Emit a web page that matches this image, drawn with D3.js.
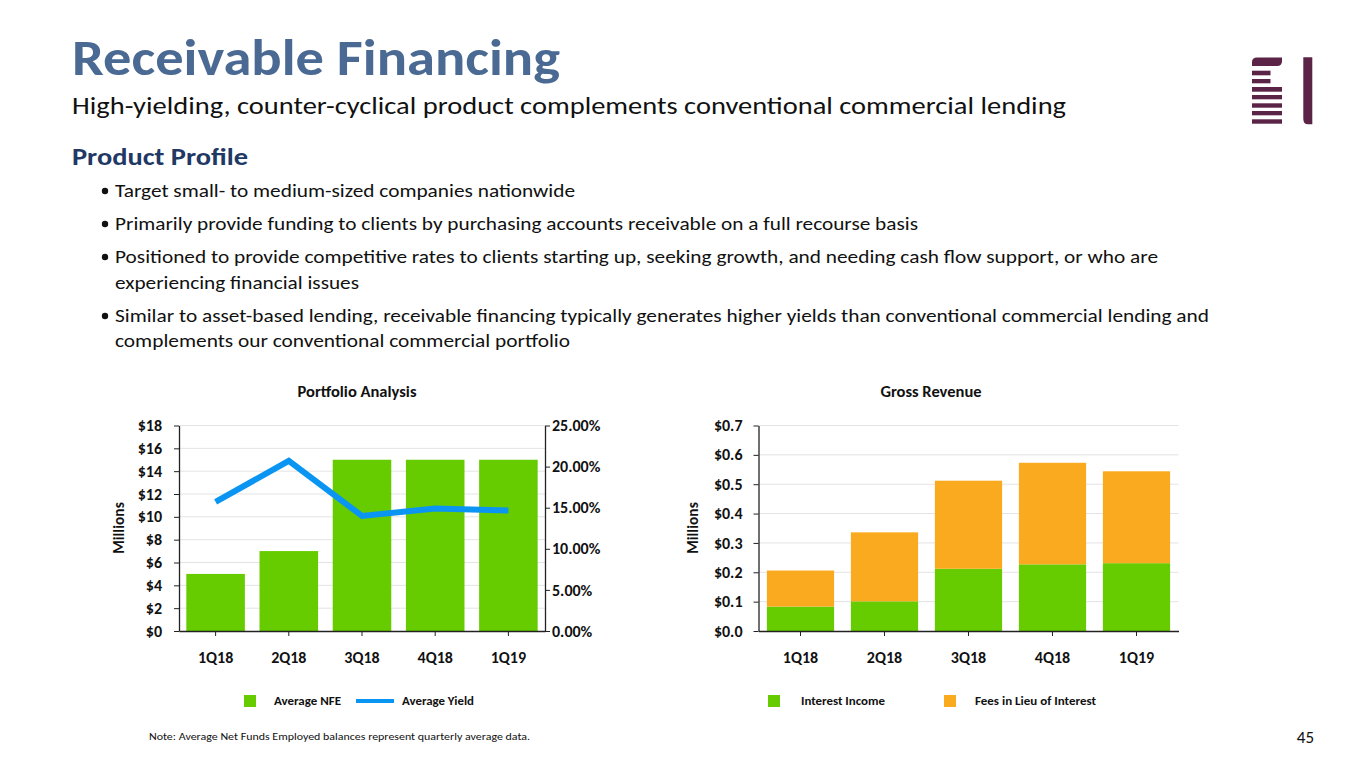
<!DOCTYPE html>
<html><head><meta charset="utf-8">
<script src="https://cdn.jsdelivr.net/npm/d3@7"></script>
<style>
html,body{margin:0;padding:0;background:#fff;}
svg{display:block;font-family:Carlito,Lato,"Open Sans",sans-serif;}
</style></head>
<body>
<svg id="c" width="1365" height="768"></svg>
<script>
const categories = ["1Q18","2Q18","3Q18","4Q18","1Q19"];
const avgNFE = [5, 7, 15, 15, 15];               // $ millions
const avgYield = [0.157, 0.207, 0.140, 0.149, 0.1465];
const interestIncome = [0.083, 0.101, 0.212, 0.227, 0.231];
const feesInLieu = [0.123, 0.235, 0.300, 0.346, 0.313];
const leftTicks = [0,2,4,6,8,10,12,14,16,18];
const yieldTicks = [0,0.05,0.10,0.15,0.20,0.25];
const revTicks = [0,0.1,0.2,0.3,0.4,0.5,0.6,0.7];
const bullets = [
  ["Target small- to medium-sized companies nationwide"],
  ["Primarily provide funding to clients by purchasing accounts receivable on a full recourse basis"],
  ["Positioned to provide competitive rates to clients starting up, seeking growth, and needing cash flow support, or who are","experiencing financial issues"],
  ["Similar to asset-based lending, receivable financing typically generates higher yields than conventional commercial lending and","complements our conventional commercial portfolio"]
];

const GREEN="#66cc00", ORANGE="#f9aa1e", BLUE="#0b95f2", GRID="#e3e3e3", MAROON="#5b2447";
const svg = d3.select("#c");

// Header
svg.append("text").attr("x",72).attr("y",75).attr("font-size",50).attr("font-weight","bold")
  .attr("fill","#4b6a93").attr("textLength",488).attr("lengthAdjust","spacingAndGlyphs").text("Receivable Financing");
svg.append("text").attr("x",72).attr("y",114).attr("font-size",24).attr("fill","#111")
  .attr("textLength",994).attr("lengthAdjust","spacingAndGlyphs")
  .text("High-yielding, counter-cyclical product complements conventional commercial lending");
svg.append("text").attr("x",72).attr("y",165).attr("font-size",24).attr("font-weight","bold")
  .attr("fill","#1f3864").attr("textLength",176).attr("lengthAdjust","spacingAndGlyphs").text("Product Profile");

const lineWidths = [[460],[803],[1043,244],[1094,455]];
const lineY = [[197],[230],[263,289],[322,347]];
bullets.forEach((b,i)=>{
  svg.append("circle").attr("cx",105).attr("cy",lineY[i][0]-6).attr("r",3.2).attr("fill","#111");
  b.forEach((t,j)=>{
    svg.append("text").attr("x",115).attr("y",lineY[i][j]).attr("font-size",19).attr("fill","#111")
      .attr("textLength",lineWidths[i][j]).attr("lengthAdjust","spacingAndGlyphs").text(t);
  });
});

// Logo
const logo = svg.append("g").attr("fill",MAROON);
logo.append("path").attr("d","M1252,66 L1252,62 Q1252,57.5 1257,57.5 L1282,57.5 L1282,61 Q1282,66 1277,66 Z");
[[70.7,75.3,1270.5],[79,83.3,1270.5],[87,91.7,1282],[95,99.3,1282],[103.3,107.7,1282],[111,115.3,1282],[119.3,123.7,1282]]
  .forEach(r=>logo.append("rect").attr("x",1252).attr("y",r[0]).attr("width",r[2]-1252).attr("height",r[1]-r[0]));
logo.append("path").attr("d","M1303.3,57.3 L1312.3,57.3 L1312.3,124.3 L1308,124.3 Q1303.3,124.3 1303.3,119 Z");

function styleAxis(g){
  g.select(".domain").attr("stroke","#222").attr("stroke-width",1.3);
  g.selectAll(".tick line").attr("stroke","#222");
  g.selectAll("text").attr("font-family","Carlito,Lato,'Open Sans',sans-serif").attr("font-weight","bold").attr("font-size",16).attr("fill","#111");
}

// ---------- Left chart ----------
const L = {x0:179, x1:545, y0:631, y1:425.5};
const xL = d3.scaleBand().domain(categories).range([L.x0,L.x1]).paddingInner(0.2).paddingOuter(0.1);
const yL = d3.scaleLinear().domain([0,18]).range([L.y0,L.y1]);
const yY = d3.scaleLinear().domain([0,0.25]).range([L.y0,L.y1]);

const gl = svg.append("g");
gl.append("g").selectAll("line").data(leftTicks.slice(1)).join("line")
  .attr("x1",L.x0).attr("x2",L.x1).attr("y1",d=>yL(d)).attr("y2",d=>yL(d)).attr("stroke",GRID).attr("stroke-width",1);
gl.append("g").selectAll("rect").data(avgNFE).join("rect")
  .attr("x",(d,i)=>xL(categories[i])).attr("width",xL.bandwidth())
  .attr("y",d=>yL(d)).attr("height",d=>yL(0)-yL(d)).attr("fill",GREEN);
gl.append("path").datum(avgYield)
  .attr("d",d3.line().x((d,i)=>xL(categories[i])+xL.bandwidth()/2).y(d=>yY(d)))
  .attr("fill","none").attr("stroke",BLUE).attr("stroke-width",6).attr("stroke-linejoin","miter");

gl.append("g").attr("transform",`translate(${L.x0},0)`)
  .call(d3.axisLeft(yL).tickValues(leftTicks).tickSize(5).tickSizeOuter(0).tickPadding(12).tickFormat(d=>"$"+d)).call(styleAxis);
gl.append("g").attr("transform",`translate(${L.x1},0)`)
  .call(d3.axisRight(yY).tickValues(yieldTicks).tickSize(5).tickSizeOuter(0).tickPadding(2).tickFormat(d3.format(".2%"))).call(styleAxis);
gl.append("g").attr("transform",`translate(0,${L.y0})`)
  .call(d3.axisBottom(xL).tickSize(5).tickSizeOuter(0).tickPadding(16)).call(styleAxis);
gl.append("text").attr("transform","translate(124,528) rotate(-90)").attr("text-anchor","middle")
  .attr("font-size",15.5).attr("font-weight","bold").attr("fill","#111").text("Millions");
gl.append("text").attr("x",357).attr("y",397).attr("text-anchor","middle").attr("font-size",16.5)
  .attr("font-weight","bold").attr("fill","#111").text("Portfolio Analysis");

// ---------- Right chart ----------
const R = {x0:758.5, x1:1178.5, y0:631, y1:425.5};
const xR = d3.scaleBand().domain(categories).range([R.x0,R.x1]).paddingInner(0.2).paddingOuter(0.1);
const yR = d3.scaleLinear().domain([0,0.7]).range([R.y0,R.y1]);
const gr = svg.append("g");
gr.append("g").selectAll("line").data(revTicks.slice(1)).join("line")
  .attr("x1",R.x0).attr("x2",R.x1).attr("y1",d=>yR(d)).attr("y2",d=>yR(d)).attr("stroke",GRID);
const stackData = categories.map((c,i)=>({cat:c, interest:interestIncome[i], fees:feesInLieu[i]}));
const series = d3.stack().keys(["interest","fees"])(stackData);
const colorR = {interest:GREEN, fees:ORANGE};
gr.append("g").selectAll("g").data(series).join("g").attr("fill",s=>colorR[s.key])
  .selectAll("rect").data(s=>s).join("rect")
  .attr("x",d=>xR(d.data.cat)).attr("width",xR.bandwidth())
  .attr("y",d=>yR(d[1])).attr("height",d=>yR(d[0])-yR(d[1]));
gr.append("g").attr("transform",`translate(${R.x0},0)`)
  .call(d3.axisLeft(yR).tickValues(revTicks).tickSize(5).tickSizeOuter(0).tickPadding(11).tickFormat(d=>"$"+d3.format(".1f")(d))).call(styleAxis);
gr.append("g").attr("transform",`translate(0,${R.y0})`)
  .call(d3.axisBottom(xR).tickSize(5).tickSizeOuter(0).tickPadding(16)).call(styleAxis);
gr.append("text").attr("transform","translate(698,528) rotate(-90)").attr("text-anchor","middle")
  .attr("font-size",15.5).attr("font-weight","bold").attr("fill","#111").text("Millions");
gr.append("text").attr("x",931).attr("y",397).attr("text-anchor","middle").attr("font-size",16.5)
  .attr("font-weight","bold").attr("fill","#111").text("Gross Revenue");

// ---------- Legends ----------
const leg = svg.append("g").attr("font-size",11.5).attr("font-weight","bold").attr("fill","#111");
leg.append("rect").attr("x",244).attr("y",695).attr("width",12).attr("height",12).attr("fill",GREEN);
leg.append("text").attr("x",274).attr("y",705).attr("textLength",67).attr("lengthAdjust","spacingAndGlyphs").text("Average NFE");
leg.append("rect").attr("x",356).attr("y",699).attr("width",38).attr("height",4).attr("fill",BLUE);
leg.append("text").attr("x",402).attr("y",705).attr("textLength",72).attr("lengthAdjust","spacingAndGlyphs").text("Average Yield");
leg.append("rect").attr("x",768).attr("y",695).attr("width",12).attr("height",12).attr("fill",GREEN);
leg.append("text").attr("x",801).attr("y",705).attr("textLength",84).attr("lengthAdjust","spacingAndGlyphs").text("Interest Income");
leg.append("rect").attr("x",944).attr("y",695).attr("width",12).attr("height",12).attr("fill",ORANGE);
leg.append("text").attr("x",975).attr("y",705).attr("textLength",121).attr("lengthAdjust","spacingAndGlyphs").text("Fees in Lieu of Interest");

svg.append("text").attr("x",149).attr("y",740).attr("font-size",10.5).attr("fill","#111")
  .attr("textLength",381).attr("lengthAdjust","spacingAndGlyphs")
  .text("Note: Average Net Funds Employed balances represent quarterly average data.");
svg.append("text").attr("x",1314).attr("y",743).attr("text-anchor","end").attr("font-size",17).attr("fill","#111").text("45");
</script>
</body></html>
